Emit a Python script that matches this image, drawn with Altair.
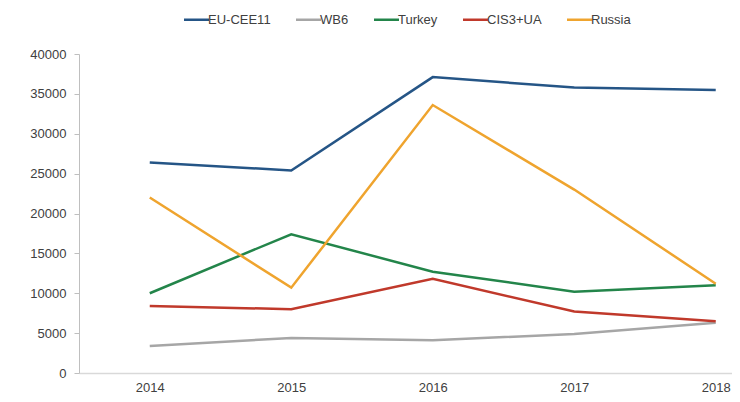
import altair as alt
import pandas as pd

years = [2014, 2015, 2016, 2017, 2018]
series_names = ["EU-CEE11", "WB6", "Turkey", "CIS3+UA", "Russia"]
eu_cee11 = [26400, 25400, 37100, 35800, 35500]
wb6 = [3400, 4400, 4100, 4900, 6300]
turkey = [10000, 17400, 12700, 10200, 11000]
cis3_ua = [8400, 8000, 11800, 7700, 6500]
russia = [22000, 10700, 33600, 23000, 11200]
colors = ["#255586", "#A6A6A6", "#23854A", "#C0392B", "#EFA42E"]
y_ticks = list(range(0, 40001, 5000))

values = [eu_cee11, wb6, turkey, cis3_ua, russia]
rows = []
for name, vals in zip(series_names, values):
    for yr, v in zip(years, vals):
        rows.append({"year": yr, "value": v, "series": name})
df = pd.DataFrame(rows)

font = "Liberation Sans"

chart = (
    alt.Chart(df)
    .mark_line(strokeWidth=2.5)
    .encode(
        x=alt.X(
            "year:Q",
            scale=alt.Scale(domain=[2013.5, 2018.115], nice=False, zero=False),
            axis=alt.Axis(
                values=years, format="d", title=None, grid=False, ticks=False,
                domainColor="#D9D9D9", domainWidth=1.5, labelPadding=8,
                labelFontSize=13, labelColor="#404040", labelFont=font,
            ),
        ),
        y=alt.Y(
            "value:Q",
            scale=alt.Scale(domain=[0, 40000], nice=False),
            axis=alt.Axis(
                values=y_ticks, format="d", title=None, grid=False,
                tickSize=5, tickColor="#BFBFBF", domainColor="#BFBFBF",
                labelPadding=8, labelFontSize=13, labelColor="#404040",
                labelFont=font,
            ),
        ),
        color=alt.Color(
            "series:N",
            scale=alt.Scale(domain=series_names, range=colors),
            sort=series_names,
            legend=alt.Legend(
                title=None, orient="none", direction="horizontal", columns=5,
                legendX=106, legendY=-46, padding=0,
                symbolType="M-1.25,0H1.25",
                symbolStrokeWidth=2.5, symbolSize=400, labelFontSize=13,
                labelColor="#404040", labelFont=font, columnPadding=20,
                labelOffset=0,
            ),
        ),
        detail="series:N",
    )
    .properties(
        width=653,
        height=319,
        autosize=alt.AutoSizeParams(type="none"),
        padding={"left": 71, "top": 46, "right": 0, "bottom": 21},
    )
    .configure_view(stroke=None)
)

chart.save("out.html", embed_options={"renderer": "svg", "actions": False})
